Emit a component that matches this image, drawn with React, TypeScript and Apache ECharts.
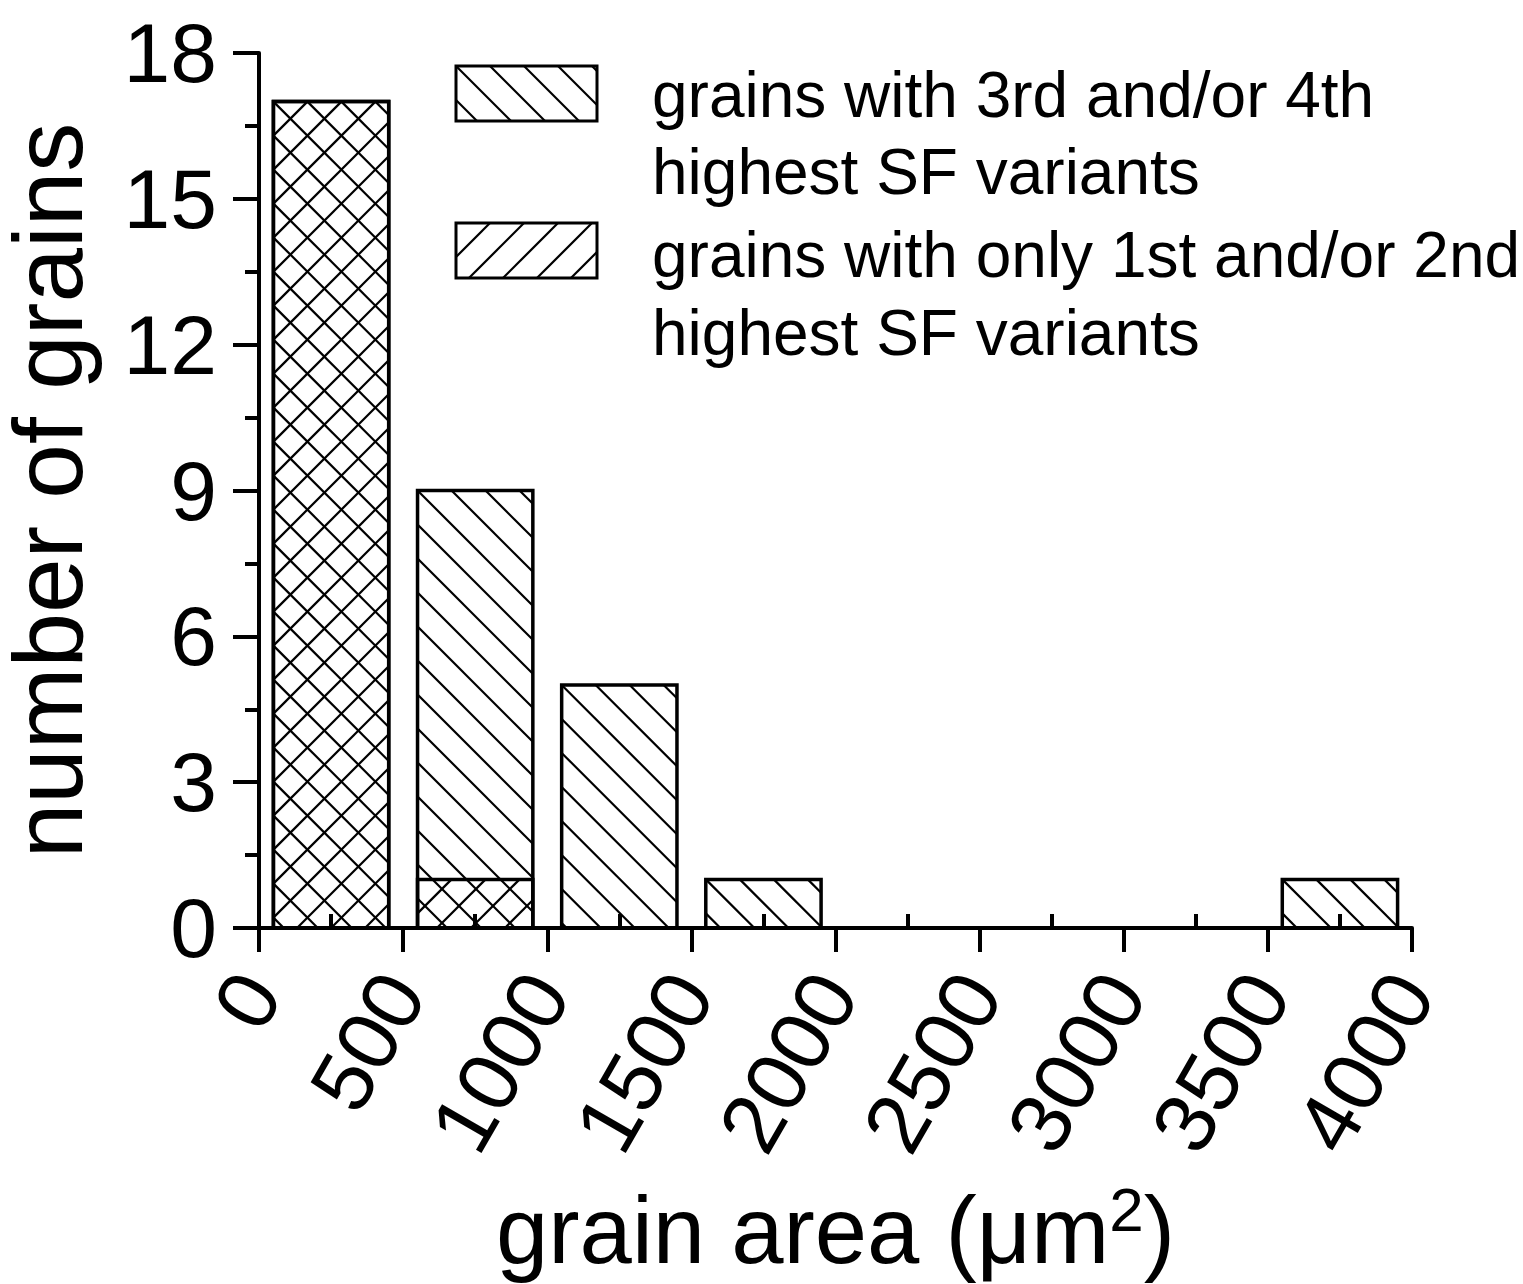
import React, { useEffect, useRef } from "react";
import * as echarts from "echarts";

// ---- data ----
const binCenters = [250, 750, 1250, 1750, 2250, 2750, 3250, 3750];
const grains34 = [17, 9, 5, 1, 0, 0, 0, 1]; // grains with 3rd and/or 4th highest SF variants
const grains12 = [17, 1, 0, 0, 0, 0, 0, 0]; // grains with only 1st and/or 2nd highest SF variants
const seriesNames = [
  ["grains with 3rd and/or 4th", "highest SF variants"],
  ["grains with only 1st and/or 2nd", "highest SF variants"],
];
const xTicks = { min: 0, max: 4000, interval: 500 };
const yTicks = { min: 0, max: 18, interval: 3 };

const BAR_WIDTH = 400;
const HATCH = 34;
const FONT = '"Liberation Sans", Arial, Helvetica, sans-serif';

type Seg = [number, number, number, number];
function hatchLines(x0: number, y0: number, w: number, h: number, dir: number): Seg[] {
  const segs: Seg[] = [];
  if (dir === 1) {
    for (let c = -Math.floor(h / HATCH) * HATCH; c <= w; c += HATCH) {
      const lo = Math.max(0, c), hi = Math.min(w, h + c);
      if (hi - lo > 0.5) segs.push([x0 + lo, y0 + lo - c, x0 + hi, y0 + hi - c]);
    }
  } else {
    for (let c = HATCH; c <= w + h; c += HATCH) {
      const lo = Math.max(0, c - h), hi = Math.min(w, c);
      if (hi - lo > 0.5) segs.push([x0 + lo, y0 + c - lo, x0 + hi, y0 + c - hi]);
    }
  }
  return segs;
}

function hatchedBox(x0: number, y0: number, w: number, h: number, dir: number, fill: string, border: number) {
  const children: any[] = [
    { type: "rect", shape: { x: x0, y: y0, width: w, height: h }, style: { fill: fill, stroke: "none" } },
  ];
  hatchLines(x0, y0, w, h, dir).forEach((s) =>
    children.push({
      type: "line",
      shape: { x1: s[0], y1: s[1], x2: s[2], y2: s[3] },
      style: { stroke: "#000", lineWidth: 2.2 },
    })
  );
  children.push({
    type: "rect",
    shape: { x: x0, y: y0, width: w, height: h },
    style: { fill: "none", stroke: "#000", lineWidth: border },
  });
  return children;
}

function makeRender(dir: number, fill: string) {
  return (params: any, api: any) => {
    const c = api.value(0);
    const v = api.value(1);
    if (!v) return { type: "group", children: [] };
    const p0 = api.coord([c - BAR_WIDTH / 2, v]);
    const p1 = api.coord([c + BAR_WIDTH / 2, 0]);
    return {
      type: "group",
      children: hatchedBox(p0[0], p0[1], p1[0] - p0[0], p1[1] - p0[1], dir, fill, 3.5),
    };
  };
}

export default function App() {
  const ref = useRef<HTMLDivElement>(null);
  useEffect(() => {
    if (!ref.current) return;
    const chart = echarts.init(ref.current, null, { renderer: "svg" });

    const legendGraphics: any[] = [
      { type: "group", children: hatchedBox(456, 66, 141, 55, 1, "#fff", 3) },
      { type: "group", children: hatchedBox(456, 223, 141, 55, -1, "#fff", 3) },
    ];
    const textYs = [95, 172, 255, 333];
    [seriesNames[0][0], seriesNames[0][1], seriesNames[1][0], seriesNames[1][1]].forEach((t, i) =>
      legendGraphics.push({
        type: "text",
        x: 652,
        y: textYs[i],
        style: { text: t, font: `64px ${FONT}`, fill: "#000", verticalAlign: "middle", align: "left" },
      })
    );

    const axisCommon = {
      axisLine: { show: true, onZero: false, lineStyle: { color: "#000", width: 4 } },
      splitLine: { show: false },
    };

    chart.setOption({
      animation: false,
      backgroundColor: "#fff",
      grid: { left: 259, right: 111, top: 53, bottom: 356, containLabel: false, outerBoundsMode: "none" },
      xAxis: [
        {
          ...axisCommon,
          type: "value",
          position: "bottom",
          min: xTicks.min,
          max: xTicks.max,
          interval: xTicks.interval,
          z: 10,
          axisTick: { show: true, inside: false, length: 24, lineStyle: { color: "#000", width: 4 } },
          minorTick: { show: false },
          axisLabel: {
            rotate: 60,
            margin: 52,
            fontSize: 85,
            fontFamily: FONT,
            color: "#000",
            formatter: (v: number) => String(v),
          },
          name: "{t|grain area (μm}{s|2}{t|)}",
          nameLocation: "middle",
          nameGap: 250,
          nameTextStyle: {
            rich: {
              t: { fontSize: 94, fontFamily: FONT, color: "#000", lineHeight: 104 },
              s: { fontSize: 62, fontFamily: FONT, color: "#000", verticalAlign: "top", lineHeight: 50 },
            },
          },
        },
        {
          type: "value",
          position: "bottom",
          min: xTicks.min,
          max: xTicks.max,
          interval: xTicks.interval,
          z: 10,
          axisLine: { show: false, onZero: false },
          splitLine: { show: false },
          axisLabel: { show: false },
          axisTick: { show: false, inside: true },
          minorTick: { show: true, splitNumber: 2, length: 14, lineStyle: { color: "#000", width: 4 } },
        },
      ],
      yAxis: {
        ...axisCommon,
        type: "value",
        min: yTicks.min,
        max: yTicks.max,
        interval: yTicks.interval,
        z: 10,
        axisTick: { show: true, inside: false, length: 26, lineStyle: { color: "#000", width: 4 } },
        minorTick: { show: true, splitNumber: 2, length: 14, lineStyle: { color: "#000", width: 4 } },
        axisLabel: { margin: 42, fontSize: 84, fontFamily: FONT, color: "#000" },
        name: "number of grains",
        nameLocation: "middle",
        nameRotate: 90,
        nameGap: 166,
        nameTextStyle: { fontSize: 98, fontFamily: FONT, color: "#000", lineHeight: 90 },
      },
      series: [
        {
          type: "custom",
          name: seriesNames[0].join(" "),
          xAxisIndex: 0,
          yAxisIndex: 0,
          encode: { x: 0, y: 1 },
          data: binCenters.map((c, i) => [c, grains34[i]]),
          renderItem: makeRender(1, "#fff"),
          clip: false,
        },
        {
          type: "custom",
          name: seriesNames[1].join(" "),
          xAxisIndex: 0,
          yAxisIndex: 0,
          encode: { x: 0, y: 1 },
          data: binCenters.map((c, i) => [c, grains12[i]]),
          renderItem: makeRender(-1, "none"),
          clip: false,
        },
      ],
      graphic: legendGraphics,
    });
    return () => chart.dispose();
  }, []);
  return (
    <div
      ref={ref}
      style={{ position: "absolute", left: 0, top: 0, width: 1523, height: 1284, background: "#fff" }}
    />
  );
}
